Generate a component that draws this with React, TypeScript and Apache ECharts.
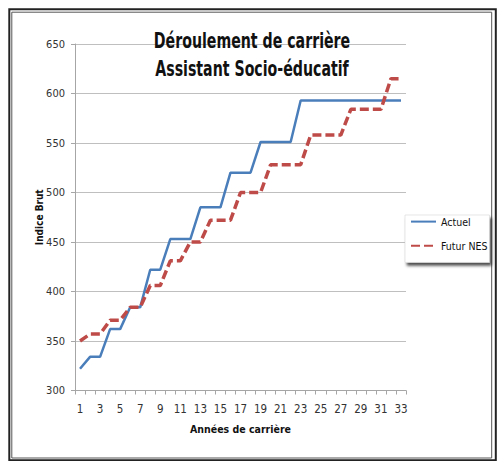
import React, { useEffect, useRef } from "react";
import * as echarts from "echarts";

const categories = ["1","2","3","4","5","6","7","8","9","10","11","12","13","14","15","16","17","18","19","20","21","22","23","24","25","26","27","28","29","30","31","32","33"];
const actuel = [322,334,334,362,362,384,384,422,422,453,453,453,485,485,485,520,520,520,551,551,551,551,593,593,593,593,593,593,593,593,593,593,593];
const futurNES = [350,357,357,371,371,384,384,406,406,431,431,450,450,472,472,472,500,500,500,528,528,528,528,558,558,558,558,584,584,584,584,615,615];
const titleLines = ["Déroulement de carrière", "Assistant Socio-éducatif"];
const seriesNames = ["Actuel", "Futur NES"];

const FONT = "'DejaVu Sans Condensed', 'Liberation Sans', sans-serif";

export default function App() {
  const ref = useRef<HTMLDivElement>(null);
  useEffect(() => {
    if (!ref.current) return;
    const chart = echarts.init(ref.current, null, { renderer: "svg" });
    chart.setOption({
      animation: false,
      backgroundColor: "#ffffff",
      graphic: [
        { type: "rect", shape: { x: 9.3, y: 9.3, width: 486.5, height: 451 }, style: { fill: "none", stroke: "#222", lineWidth: 2 }, silent: true },
        { type: "rect", shape: { x: 11.8, y: 12.2, width: 479.9, height: 445.8 }, style: { fill: "none", stroke: "#555", lineWidth: 1 }, silent: true },
        { type: "text", x: 252, y: 41, scaleX: 0.75, style: { text: titleLines[0], fontFamily: FONT, fontWeight: "bold", fontSize: 21, fill: "#111", align: "center", verticalAlign: "middle" }, z: 10 },
        { type: "text", x: 252, y: 69, scaleX: 0.75, style: { text: titleLines[1], fontFamily: FONT, fontWeight: "bold", fontSize: 21, fill: "#111", align: "center", verticalAlign: "middle" }, z: 10 },
      ],
      grid: { left: 75, top: 44, right: 91, bottom: 70.5, containLabel: false },
      legend: {
        orient: "vertical",
        left: 405,
        top: 215,
        padding: [1, 2, 11, 5],
        itemWidth: 25,
        itemHeight: 14,
        itemGap: 13,
        backgroundColor: "#fff",
        borderColor: "#ccc",
        borderWidth: 0.5,
        shadowBlur: 3,
        shadowColor: "rgba(0,0,0,0.7)",
        shadowOffsetX: 2,
        shadowOffsetY: 3,
        itemStyle: { opacity: 0, borderWidth: 0, color: "transparent" },
        textStyle: { fontFamily: FONT, fontSize: 10.5, color: "#111" },
        data: seriesNames,
      },
      xAxis: {
        type: "category",
        data: categories,
        boundaryGap: true,
        name: "Années de carrière",
        nameLocation: "middle",
        nameGap: 33,
        nameMoveOverlap: false,
        nameTextStyle: { fontFamily: FONT, fontWeight: "bold", fontSize: 10.5, color: "#111" },
        axisLine: { lineStyle: { color: "#a6a6a6", width: 1 } },
        axisTick: { show: true, interval: 0, length: 4, lineStyle: { color: "#a6a6a6" } },
        axisLabel: { interval: 1, fontFamily: FONT, fontSize: 11.5, color: "#333", margin: 12 },
        splitLine: { show: false },
      },
      yAxis: {
        type: "value",
        min: 300,
        max: 650,
        interval: 50,
        name: "Indice Brut",
        nameLocation: "middle",
        nameRotate: 90,
        nameGap: 31,
        nameMoveOverlap: false,
        nameTextStyle: { fontFamily: FONT, fontWeight: "bold", fontSize: 10, color: "#111" },
        axisLine: { show: true, lineStyle: { color: "#a6a6a6", width: 1 } },
        axisTick: { show: true, length: 4, lineStyle: { color: "#a6a6a6" } },
        axisLabel: { fontFamily: FONT, fontSize: 11, color: "#333", margin: 10 },
        splitLine: { show: true, lineStyle: { color: "#bfbfbf", width: 1 } },
      },
      series: [
        {
          name: seriesNames[0],
          type: "line",
          data: actuel,
          symbol: "none",
          lineStyle: { color: "#4a7ebb", width: 2.5 },
          itemStyle: { color: "#4a7ebb" },
        },
        {
          name: seriesNames[1],
          type: "line",
          data: futurNES,
          symbol: "none",
          lineStyle: { color: "#be4b48", width: 3.5, type: [9, 4] },
          itemStyle: { color: "#be4b48" },
        },
      ],
    });
    return () => chart.dispose();
  }, []);
  return <div ref={ref} style={{ position: "fixed", left: 0, top: 0, width: 497, height: 461 }} />;
}
